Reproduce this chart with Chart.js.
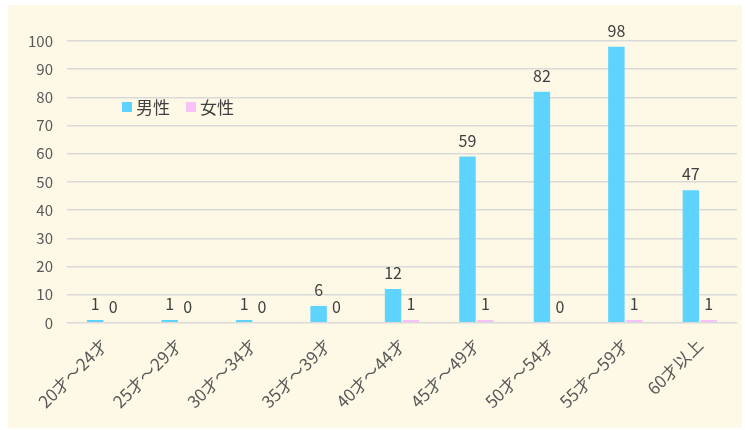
<!DOCTYPE html>
<html>
<head>
<meta charset="utf-8">
<script src="https://cdn.jsdelivr.net/npm/chart.js@4"></script>
<style>
  body { margin: 0; background: #ffffff; }
  #wrap { position: absolute; left: 8px; top: 5px; width: 734px; height: 423px; background: #FEF8E7; }
  #legend { position: absolute; left: 114px; top: 89px; font: 17px "Noto Sans CJK JP"; color: #404040; }
  #legend span.box { display: inline-block; width: 10px; height: 10px; margin-right: 4px; vertical-align: 2px; }
  #legend span.item { margin-right: 16px; }
</style>
</head>
<body>
<div id="wrap">
  <canvas id="chart" width="734" height="423"></canvas>
  <div id="legend"></div>
</div>
<script>
// データ
let categories = ['20才～24才', '25才～29才', '30才～34才', '35才～39才', '40才～44才', '45才～49才', '50才～54才', '55才～59才', '60才以上'];
let male = [1, 1, 1, 6, 12, 59, 82, 98, 47];
let female = [0, 0, 0, 0, 1, 1, 0, 1, 1];
let seriesNames = ['男性', '女性'];
let colors = ['#5DD3FE', '#F9C2F6'];

let fontFamily = '"Noto Sans CJK JP", "Noto Sans", sans-serif';

// ラベル表示
let valueLabels = {
    id: 'valueLabels',
    afterDatasetsDraw(chart) {
        let ctx = chart.ctx;
        ctx.save();
        ctx.font = '16px ' + fontFamily;
        ctx.fillStyle = '#404040';
        ctx.textAlign = 'center';
        ctx.textBaseline = 'bottom';
        chart.data.datasets.forEach((ds, i) => {
            let meta = chart.getDatasetMeta(i);
            meta.data.forEach((bar, j) => {
                ctx.fillText(ds.data[j], bar.x, bar.y - 8);
            });
        });
        ctx.restore();
    }
};

let data = {
    labels: categories,
    datasets: [
        { label: seriesNames[0], data: male, backgroundColor: colors[0], barPercentage: 0.92, categoryPercentage: 0.48 },
        { label: seriesNames[1], data: female, backgroundColor: colors[1], barPercentage: 0.92, categoryPercentage: 0.48 }
    ]
};

let config = {
    type: 'bar',
    data: data,
    options: {
        responsive: false,
        animation: false,
        layout: { padding: { top: 36, right: 5, left: 6, bottom: 12 } },
        plugins: {
            legend: { display: false },
            tooltip: { enabled: false }
        },
        scales: {
            x: {
                grid: { display: false },
                border: { display: false },
                ticks: {
                    color: '#595959',
                    font: { family: fontFamily, size: 17 },
                    minRotation: 45,
                    maxRotation: 45,
                    padding: 4
                }
            },
            y: {
                min: 0,
                max: 100,
                grid: { color: '#D9D9D9', lineWidth: 1.5, drawTicks: false },
                border: { display: false },
                ticks: {
                    stepSize: 10,
                    color: '#595959',
                    font: { family: fontFamily, size: 15 },
                    padding: 14
                }
            }
        }
    },
    plugins: [valueLabels]
};

new Chart(document.getElementById('chart'), config);

// 凡例
let legendHtml = '';
seriesNames.forEach((name, i) => {
    legendHtml += '<span class="item"><span class="box" style="background:' + colors[i] + '"></span>' + name + '</span>';
});
document.getElementById('legend').innerHTML = legendHtml;
</script>
</body>
</html>
